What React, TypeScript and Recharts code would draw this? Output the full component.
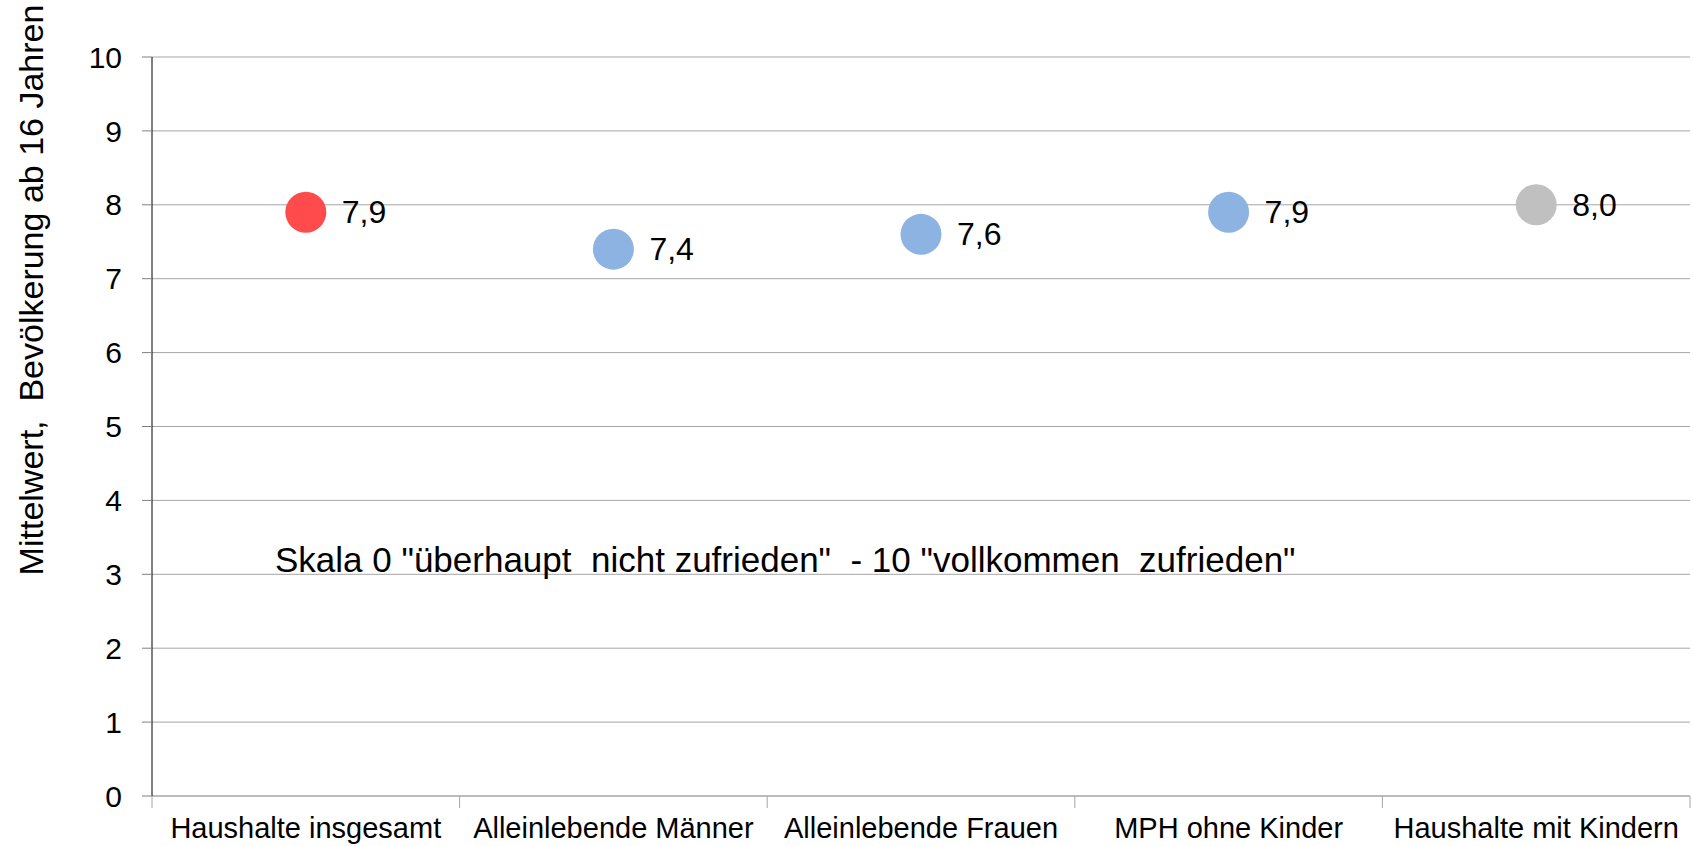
import { ScatterChart, Scatter, XAxis, YAxis, CartesianGrid } from "recharts";

const categories = [
  "Haushalte insgesamt",
  "Alleinlebende Männer",
  "Alleinlebende Frauen",
  "MPH ohne Kinder",
  "Haushalte mit Kindern",
];
const values = [7.9, 7.4, 7.6, 7.9, 8.0];
const colors = ["#FF4B4B", "#8DB3E2", "#8DB3E2", "#8DB3E2", "#C0C0C0"];
const yTicks = [0, 1, 2, 3, 4, 5, 6, 7, 8, 9, 10];

const FONT = '"Liberation Sans", Arial, sans-serif';

const data = categories.map((name, i) => ({
  name,
  pos: i + 0.5,
  value: values[i],
  color: colors[i],
}));

// category edges get a tick mark, category centres get the label
const xTicks = categories.flatMap((_, i) => [i, i + 0.5]).concat(categories.length);

const fmt = (v: number) => v.toFixed(1).replace(".", ",");

function XTick(props: any) {
  const { x, y, payload } = props;
  const v = payload.value as number;
  if (Number.isInteger(v)) {
    return <line x1={x} y1={y} x2={x} y2={y + 12} stroke="#A6A6A6" strokeWidth={1} />;
  }
  const label = categories[Math.floor(v)];
  return (
    <text x={x} y={y + 42} textAnchor="middle" fill="#000" fontSize={29} fontFamily={FONT}>
      {label}
    </text>
  );
}

function Dot(props: any) {
  const { cx, cy, payload } = props;
  return (
    <g>
      <circle cx={cx} cy={cy} r={20.5} fill={payload.color} />
      <text
        x={cx + 36}
        y={cy}
        dominantBaseline="central"
        fill="#000"
        fontSize={32}
        fontFamily={FONT}
      >
        {fmt(payload.value)}
      </text>
    </g>
  );
}

export default function App() {
  return (
    <div style={{ position: "absolute", left: 0, top: 0, width: 1693, height: 846, background: "#fff", fontFamily: FONT }}>
      <ScatterChart width={1693} height={846} margin={{ top: 57, right: 3, bottom: 0, left: 0 }}>
        <CartesianGrid horizontal vertical={false} stroke="#A6A6A6" />
        <XAxis
          dataKey="pos"
          type="number"
          domain={[0, categories.length]}
          ticks={xTicks}
          interval={0}
          tickLine={false}
          tickSize={0}
          tickMargin={0}
          tick={<XTick />}
          height={50}
          axisLine={{ stroke: "#A6A6A6" }}
        />
        <YAxis
          dataKey="value"
          type="number"
          domain={[0, 10]}
          ticks={yTicks}
          interval={0}
          width={152}
          tickSize={10}
          tickMargin={20}
          tickLine={{ stroke: "#808080" }}
          axisLine={{ stroke: "#000" }}
          tick={{ fill: "#000", fontSize: 30, fontFamily: FONT }}
        />
        <Scatter data={data} isAnimationActive={false} shape={<Dot />} />
      </ScatterChart>
      <div
        style={{
          position: "absolute",
          left: 31,
          top: 290,
          transform: "translate(-50%, -50%) rotate(-90deg)",
          whiteSpace: "pre",
          fontSize: 34,
          lineHeight: 1,
          color: "#000",
        }}
      >
        {"Mittelwert,  Bevölkerung ab 16 Jahren"}
      </div>
      <div
        style={{
          position: "absolute",
          left: 275,
          top: 542,
          whiteSpace: "pre",
          fontSize: 35,
          lineHeight: 1,
          color: "#000",
        }}
      >
        {'Skala 0 "überhaupt  nicht zufrieden"  - 10 "vollkommen  zufrieden"'}
      </div>
    </div>
  );
}
